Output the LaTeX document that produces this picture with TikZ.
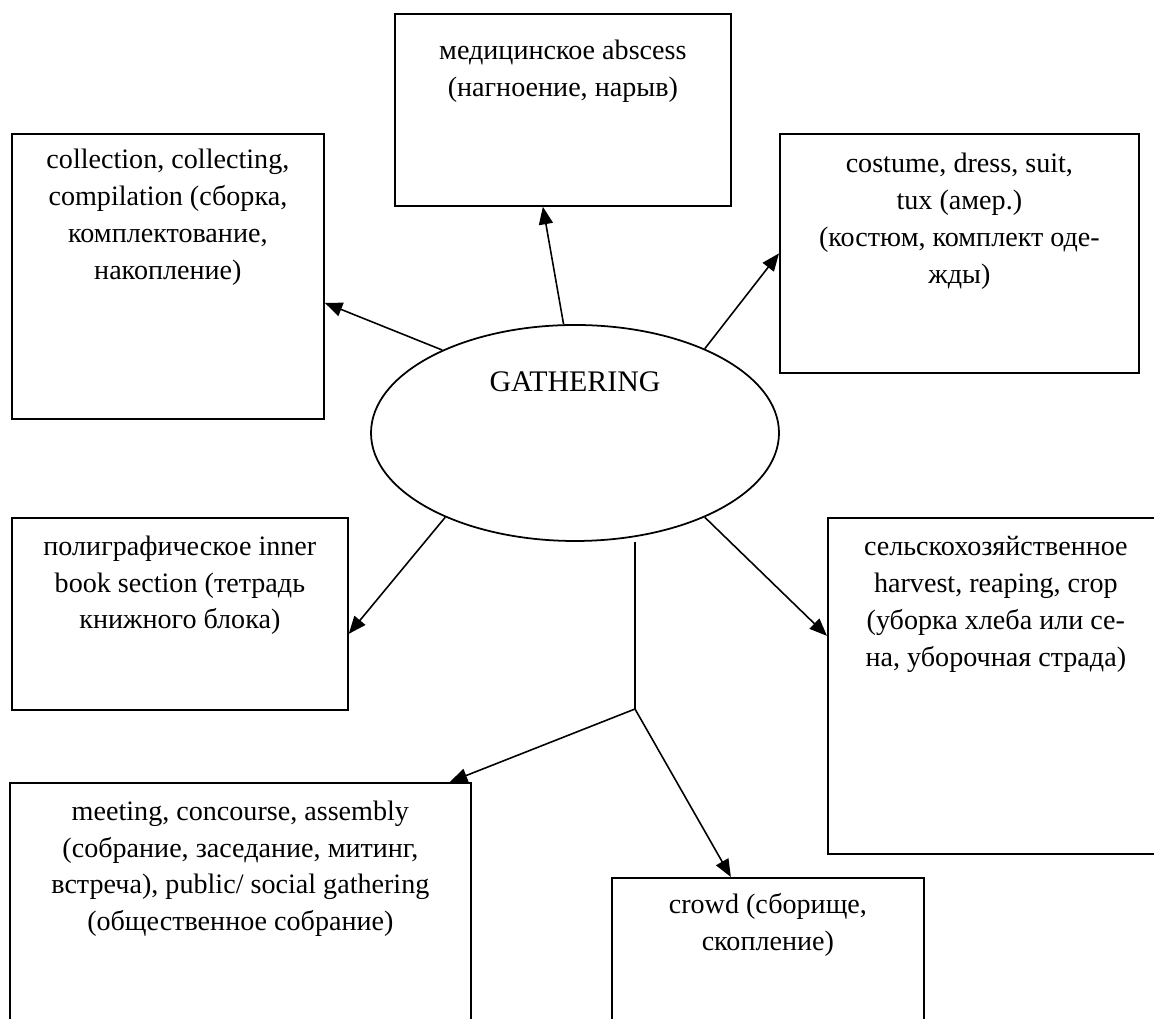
\documentclass[tikz,border=0pt]{standalone}
\usepackage{fontspec}
\setmainfont{Liberation Serif}
\usetikzlibrary{positioning,shapes.geometric,arrows.meta}

\tikzset{
  box/.style={draw, line width=1pt, anchor=north west, inner sep=0pt},
  txt/.style={align=center, inner sep=0pt, font=\fontsize{16pt}{21pt}\selectfont},
  arr/.style={line width=0.9pt, -{Triangle[length=10pt,width=8pt]}}
}

\begin{document}
\begin{tikzpicture}
  \useasboundingbox (0,0) rectangle (23.08,20.38);

  \node[draw, ellipse, line width=1pt, minimum width=8.16cm, minimum height=4.32cm] (gath) at (11.5,11.72) {};
  \node[font=\fontsize{17pt}{20pt}\selectfont, anchor=base, inner sep=0pt] (gathtxt) at (11.5,12.54) {GATHERING};

  \node[box, minimum width=6.24cm, minimum height=5.7cm] (coll) at (0.22,17.72) {};
  \node[txt, below=9pt of coll.north] (colltxt) {collection, collecting,\\compilation (сборка,\\комплектование,\\накопление)};

  \node[box, minimum width=6.72cm, minimum height=3.84cm] (absc) at (7.88,20.12) {};
  \node[txt, below=15pt of absc.north] (absctxt) {медицинское abscess\\(нагноение, нарыв)};

  \node[box, minimum width=7.18cm, minimum height=4.78cm] (cost) at (15.58,17.72) {};
  \node[txt, below=11.4pt of cost.north] (costtxt) {costume, dress, suit,\\tux (амер.)\\(костюм, комплект оде-\\жды)};

  \node[box, minimum width=6.72cm, minimum height=3.84cm] (poly) at (0.22,10.04) {};
  \node[txt, below=10.4pt of poly.north] (polytxt) {полиграфическое inner\\book section (тетрадь\\книжного блока)};

  \node[box, minimum width=6.72cm, minimum height=6.72cm] (harv) at (16.54,10.04) {};
  \node[txt, below=11pt of harv.north] (harvtxt) {сельскохозяйственное\\harvest, reaping, crop\\(уборка хлеба или се-\\на, уборочная страда)};

  \node[box, minimum width=9.22cm, minimum height=6cm] (meet) at (0.18,4.74) {};
  \node[txt, below=10.4pt of meet.north] (meettxt) {meeting, concourse, assembly\\(собрание, заседание, митинг,\\встреча), public/ social gathering\\(общественное собрание)};

  \node[box, minimum width=6.24cm, minimum height=4cm] (crowd) at (12.22,2.84) {};
  \node[txt, below=9pt of crowd.north] (crowdtxt) {crowd (сборище,\\скопление)};

  \draw[arr] (gath.148) -- ([yshift=-0.53cm]coll.east);
  \draw[arr] (gath.96) -- ([xshift=-0.4cm]absc.south);
  \draw[arr] (gath.33) -- (cost.west);
  \draw[arr] (gath.213) -- ([yshift=-0.4cm]poly.east);
  \draw[arr] (gath.327) -- ([yshift=1cm]harv.west);

  \coordinate (split) at (12.7,6.2);
  \draw[line width=0.9pt] (split |- gath.south) -- (split);
  \draw[arr] (split) -- ([xshift=-0.44cm]meet.north east);
  \draw[arr] (split) -- ([xshift=-0.74cm]crowd.north);
\end{tikzpicture}
\end{document}
